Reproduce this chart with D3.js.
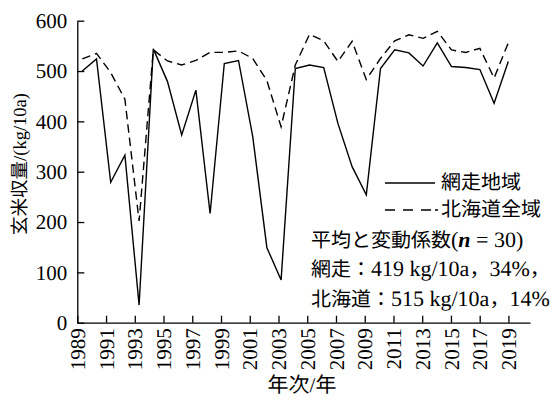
<!DOCTYPE html>
<html>
<head>
<meta charset="utf-8">
<script src="https://cdn.jsdelivr.net/npm/d3@7.9.0/dist/d3.min.js"></script>
<style>
  body { margin: 0; background: #fff; }
  svg { display: block; }
  text { fill: #000; text-rendering: geometricPrecision; }
</style>
</head>
<body>
<svg id="chart" width="555" height="401"></svg>
<script>
// years and yields (kg/10a)
const years = d3.range(1989, 2020);
const abashiri = [500, 524, 279, 333, 35, 544, 479, 373, 462, 217, 515, 521, 370, 149, 85,
  505, 512, 507, 396, 310, 254, 505, 542, 536, 510, 556, 509, 507, 503, 436, 519];
const hokkaido = [524, 535, 497, 444, 202, 542, 520, 512, 521, 537, 537, 540, 525, 481, 389,
  512, 573, 560, 519, 559, 483, 525, 560, 572, 565, 579, 542, 537, 545, 486, 556];
const xTicks = d3.range(1989, 2020, 2);
const yTicks = [0, 100, 200, 300, 400, 500, 600];
const seriesNames = ["網走地域", "北海道全域"];
const notes = ["網走：419 kg/10a，34%，", "北海道：515 kg/10a，14%"];

const SERIF = "'Liberation Serif'";
const CJK = "'Noto Sans CJK JP'";
const cjkRe = /[\u3000-\u9fff\uff00-\uffef]/;

// CJK runs in the CJK font, the rest in the serif font (latinSize lets the serif run be larger)
function richText(sel, str, latinSize) {
  str.split(/([\u3000-\u9fff\uff00-\uffef]+)/).filter(s => s.length).forEach(s => {
    const isCjk = cjkRe.test(s);
    const ts = sel.append("tspan").attr("font-family", isCjk ? CJK : SERIF).text(s);
    if (!isCjk && latinSize) ts.attr("font-size", latinSize);
  });
}

const svg = d3.select("#chart");

// axis scale (ticks) and the point positions used by the lines
const xAxisScale = d3.scaleLinear().domain([1989, 2020.5]).range([77.3, 530]);
const x = d3.scaleLinear().domain([1989, 2019]).range([82.3, 508.3]);
const y = d3.scaleLinear().domain([0, 600]).range([322.7, 20.7]);

// x axis
const gx = svg.append("g")
  .attr("transform", `translate(0,${y(0)})`)
  .call(d3.axisBottom(xAxisScale).tickValues(xTicks).tickFormat(d3.format("d"))
    .tickSizeInner(-7).tickSizeOuter(0))
  .attr("font-family", SERIF).attr("font-size", 21);
gx.selectAll("text")
  .attr("transform", "rotate(-90)")
  .attr("x", -5.5).attr("y", 0).attr("dy", "0.34em")
  .attr("text-anchor", "end");

// y axis
const gy = svg.append("g")
  .attr("transform", `translate(${xAxisScale(1989)},0)`)
  .call(d3.axisLeft(y).tickValues(yTicks).tickSizeInner(-7).tickSizeOuter(0).tickPadding(10))
  .attr("font-family", SERIF).attr("font-size", 21);

svg.selectAll(".domain, .tick line").attr("stroke", "#000").attr("stroke-width", 1.3);

// lines
const line = d3.line().x((d, i) => x(years[i])).y(d => y(d));

svg.append("path").datum(hokkaido)
  .attr("d", line).attr("fill", "none").attr("stroke", "#000")
  .attr("stroke-width", 1.4).attr("stroke-dasharray", "8.5,5");

svg.append("path").datum(abashiri)
  .attr("d", line).attr("fill", "none").attr("stroke", "#000")
  .attr("stroke-width", 1.4);

// axis titles
const yt = svg.append("text")
  .attr("transform", "translate(20,164) rotate(-90)")
  .attr("text-anchor", "middle").attr("dy", "0.35em")
  .attr("font-size", 18.5);
richText(yt, "玄米収量/(kg/10a)");

const xt = svg.append("text")
  .attr("x", 302).attr("y", 385)
  .attr("text-anchor", "middle").attr("dy", "0.35em")
  .attr("font-size", 21);
richText(xt, "年次/年");

// legend
const legend = svg.append("g");
seriesNames.forEach((name, i) => {
  const ly = 183 + i * 27;
  legend.append("line")
    .attr("x1", 385).attr("x2", i === 1 ? 438 : 435).attr("y1", ly).attr("y2", ly)
    .attr("stroke", "#000").attr("stroke-width", 1.4)
    .attr("stroke-dasharray", i === 1 ? "10,8,10,8,10,4,3" : null);
  const lt = legend.append("text")
    .attr("x", 441).attr("y", ly - 1).attr("dy", "0.35em")
    .attr("font-size", 20);
  richText(lt, name);
});

// mean and CV notes
const t = svg.append("text")
  .attr("x", 311).attr("y", 240).attr("dy", "0.35em")
  .attr("font-size", 20);
richText(t, "平均と変動係数(", 22);
t.append("tspan").attr("font-family", SERIF).attr("font-size", 22)
  .attr("font-style", "italic").attr("font-weight", "bold").text("n");
t.append("tspan").attr("font-family", SERIF).attr("font-size", 22).text(" = 30)");

notes.forEach((s, i) => {
  const nt = svg.append("text")
    .attr("x", 311).attr("y", 268.5 + i * 30).attr("dy", "0.35em")
    .attr("font-size", 20);
  richText(nt, s, 22);
});
</script>
</body>
</html>
